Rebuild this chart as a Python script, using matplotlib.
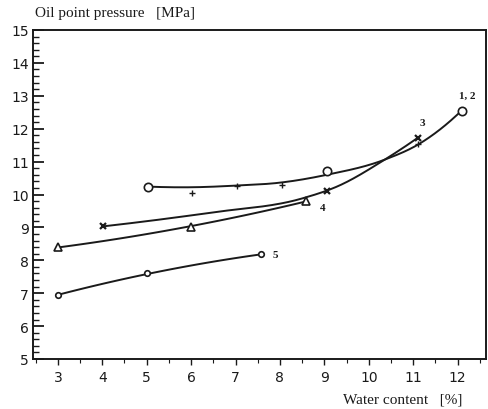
import numpy as np
import matplotlib.pyplot as plt
from matplotlib.ticker import MultipleLocator

# marker points
s12_x = [5.03, 9.06, 12.09]
s12_y = [10.24, 10.72, 12.55]
s2_x = [6.02, 7.03, 8.05, 11.12]
s2_y = [10.06, 10.27, 10.30, 11.55]
s3_x = [4.01, 9.06, 11.10]
s3_y = [9.03, 10.12, 11.72]
s4_x = [3.0, 6.0, 8.59]
s4_y = [8.39, 9.00, 9.79]
s5_x = [3.0, 5.0, 7.57]
s5_y = [6.95, 7.60, 8.18]

# hand-drawn curves
c12_x = [5.03, 6.0, 7.0, 8.0, 9.06, 10.36, 11.15, 12.09]
c12_y = [10.24, 10.22, 10.27, 10.36, 10.60, 11.06, 11.55, 12.55]
c3_x = [4.01, 6.45, 8.5, 9.3, 10.36, 11.10]
c3_y = [9.03, 9.45, 9.88, 10.25, 11.06, 11.72]
c4_x = [3.0, 6.0, 8.59]
c4_y = [8.39, 9.04, 9.79]
c5_x = [3.0, 5.0, 7.57]
c5_y = [6.95, 7.58, 8.18]

labels = ["1, 2", "3", "4", "5"]
label_xy = [(12.21, 13.03), (11.2, 12.18), (8.97, 9.62), (7.89, 8.18)]


def hermite(xs, ys, n=40):
    # smooth line through the traced points (cubic hermite in x)
    x = np.asarray(xs, float)
    y = np.asarray(ys, float)
    h = np.diff(x)
    d = np.diff(y) / h
    m = np.empty_like(x)
    m[1:-1] = (h[:-1] * d[1:] + h[1:] * d[:-1]) / (h[:-1] + h[1:])
    m[0] = 2 * d[0] - m[1] if len(x) > 2 else d[0]
    m[-1] = 2 * d[-1] - m[-2] if len(x) > 2 else d[-1]
    xx, yy = [], []
    for i in range(len(h)):
        t = np.linspace(0, 1, n)
        h00 = 2 * t ** 3 - 3 * t ** 2 + 1
        h10 = t ** 3 - 2 * t ** 2 + t
        h01 = -2 * t ** 3 + 3 * t ** 2
        h11 = t ** 3 - t ** 2
        xx.append(x[i] + t * h[i])
        yy.append(h00 * y[i] + h10 * h[i] * m[i] + h01 * y[i + 1] + h11 * h[i] * m[i + 1])
    return np.concatenate(xx), np.concatenate(yy)


fig = plt.figure(figsize=(4.88, 4.10), dpi=100)
ax = fig.add_axes([33 / 488, 1 - 360 / 410, (486 - 33) / 488, (360 - 31) / 410])

lc = "#1a1a1a"
for xs, ys in [(c12_x, c12_y), (c3_x, c3_y), (c4_x, c4_y), (c5_x, c5_y)]:
    xx, yy = hermite(xs, ys)
    ax.plot(xx, yy, color=lc, lw=1.4)

ax.plot(s12_x, s12_y, "o", ms=6, mfc="white", mec=lc, mew=1.2)
ax.plot(s2_x, s2_y, "+", ms=4.5, mec=lc, mew=1.0)
ax.plot(s3_x, s3_y, "x", ms=4.5, mec=lc, mew=1.6)
ax.plot(s4_x, s4_y, "^", ms=5.5, mfc="white", mec=lc, mew=1.2)
ax.plot(s5_x, s5_y, "o", ms=4, mfc="white", mec=lc, mew=1.2)

for t, (x, y) in zip(labels, label_xy):
    ax.text(x, y, t, fontsize=8, fontweight="bold", family="Liberation Serif",
            ha="center", va="center", color=lc)

ax.set_xlim(2.44, 12.64)
ax.set_ylim(5, 15)
ax.xaxis.set_minor_locator(MultipleLocator(0.5))
ax.yaxis.set_major_locator(MultipleLocator(1))
ax.yaxis.set_minor_locator(MultipleLocator(0.2))
ax.set_xticks(range(3, 13))
ax.tick_params(axis="y", which="major", direction="in", length=8, width=1.3, color=lc,
               labelcolor=lc, labelsize=10, pad=3)
ax.tick_params(axis="y", which="minor", direction="in", length=4, width=1.0, color=lc)
ax.tick_params(axis="x", which="major", direction="out", length=4, width=1.0, color=lc,
               labelcolor=lc, labelsize=10, pad=4)
ax.tick_params(axis="x", which="minor", direction="out", length=3, width=0.8, color=lc)
for s in ax.spines.values():
    s.set_linewidth(1.4)
    s.set_color(lc)

fig.text(35 / 488, 1 - 13 / 410, "Oil point pressure   [MPa]", fontsize=11,
         family="Liberation Serif", ha="left", va="center", color=lc)
fig.text(462 / 488, 1 - 400 / 410, "Water content   [%]", fontsize=11,
         family="Liberation Serif", ha="right", va="center", color=lc)

fig.savefig("out.png", dpi=100)
